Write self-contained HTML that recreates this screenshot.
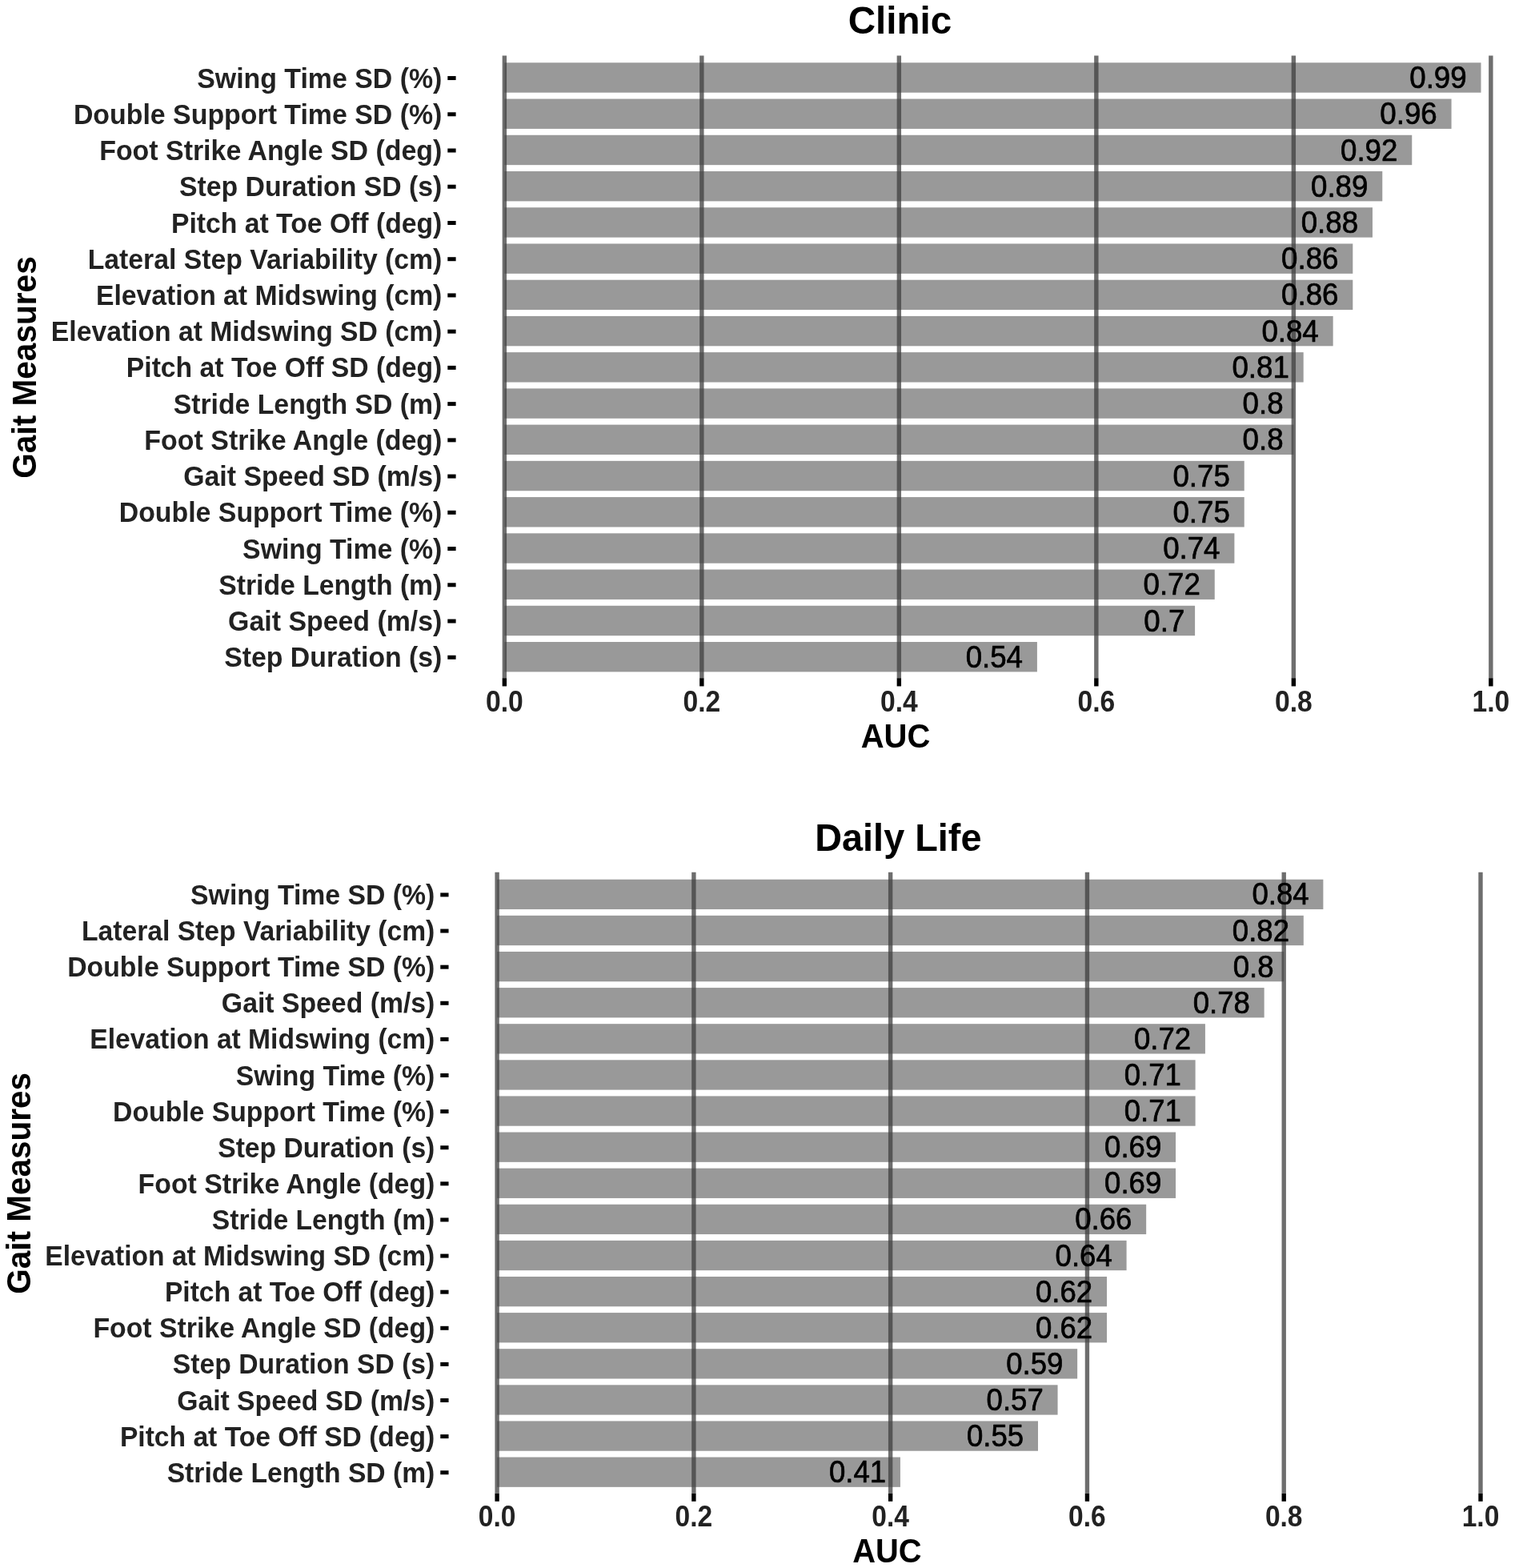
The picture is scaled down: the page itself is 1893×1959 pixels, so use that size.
<!DOCTYPE html>
<html lang="en">
<head>
<meta charset="utf-8">
<title>AUC of gait measures: Clinic and Daily Life</title>
<style>
html,body{margin:0;padding:0;background:#ffffff;}
body{width:1893px;height:1959px;overflow:hidden;}
svg{display:block;}
text{font-family:"Liberation Sans",sans-serif;}
.ylab{font-weight:bold;font-size:34px;fill:#222222;text-anchor:end;}
.xlab{font-weight:bold;font-size:34px;fill:#222222;text-anchor:middle;}
.val{font-size:37.5px;fill:#000000;stroke:#000000;stroke-width:0.7px;stroke-linejoin:round;text-anchor:end;}
.axt{font-weight:bold;font-size:40px;fill:#000000;text-anchor:middle;}
.ayt{font-weight:bold;font-size:40.6px;fill:#000000;text-anchor:middle;}
.tt{font-weight:bold;font-size:48px;fill:#000000;text-anchor:middle;}
.bar{fill:#999999;}
.g{stroke:#3f3f3f;stroke-opacity:0.755;stroke-width:5.4;}
.tk{stroke:#000000;stroke-width:5.4;}
.yaxis .tk{stroke-width:5;}
</style>
</head>
<body>
<svg width="1893" height="1959" viewBox="0 0 1893 1959">
<rect x="0" y="0" width="1893" height="1959" fill="#ffffff"/>
<g id="chart1">
<text class="tt" transform="translate(1124.5 42.1) scale(0.992 1.01)">Clinic</text>
<g class="bars">
<rect class="bar" x="630.35" y="78.3" width="1220.17" height="37.4"/>
<rect class="bar" x="630.35" y="123.53" width="1183.2" height="37.4"/>
<rect class="bar" x="630.35" y="168.76" width="1133.9" height="37.4"/>
<rect class="bar" x="630.35" y="213.99" width="1096.92" height="37.4"/>
<rect class="bar" x="630.35" y="259.23" width="1084.6" height="37.4"/>
<rect class="bar" x="630.35" y="304.46" width="1059.95" height="37.4"/>
<rect class="bar" x="630.35" y="349.69" width="1059.95" height="37.4"/>
<rect class="bar" x="630.35" y="394.92" width="1035.3" height="37.4"/>
<rect class="bar" x="630.35" y="440.15" width="998.33" height="37.4"/>
<rect class="bar" x="630.35" y="485.38" width="986" height="37.4"/>
<rect class="bar" x="630.35" y="530.61" width="986" height="37.4"/>
<rect class="bar" x="630.35" y="575.84" width="924.38" height="37.4"/>
<rect class="bar" x="630.35" y="621.08" width="924.38" height="37.4"/>
<rect class="bar" x="630.35" y="666.31" width="912.05" height="37.4"/>
<rect class="bar" x="630.35" y="711.54" width="887.4" height="37.4"/>
<rect class="bar" x="630.35" y="756.77" width="862.75" height="37.4"/>
<rect class="bar" x="630.35" y="802" width="665.55" height="37.4"/>
</g>
<g class="grid">
<line class="g" x1="630.35" y1="69.4" x2="630.35" y2="847.2"/>
<line class="g" x1="876.85" y1="69.4" x2="876.85" y2="847.2"/>
<line class="g" x1="1123.35" y1="69.4" x2="1123.35" y2="847.2"/>
<line class="g" x1="1369.85" y1="69.4" x2="1369.85" y2="847.2"/>
<line class="g" x1="1616.35" y1="69.4" x2="1616.35" y2="847.2"/>
<line class="g" x1="1862.85" y1="69.4" x2="1862.85" y2="847.2"/>
</g>
<g class="vals">
<text class="val" transform="translate(1832.65 110.1) scale(0.978 1.03)">0.99</text>
<text class="val" transform="translate(1795.67 155.33) scale(0.978 1.03)">0.96</text>
<text class="val" transform="translate(1746.37 200.56) scale(0.978 1.03)">0.92</text>
<text class="val" transform="translate(1709.4 245.79) scale(0.978 1.03)">0.89</text>
<text class="val" transform="translate(1697.07 291.03) scale(0.978 1.03)">0.88</text>
<text class="val" transform="translate(1672.42 336.26) scale(0.978 1.03)">0.86</text>
<text class="val" transform="translate(1672.42 381.49) scale(0.978 1.03)">0.86</text>
<text class="val" transform="translate(1647.77 426.72) scale(0.978 1.03)">0.84</text>
<text class="val" transform="translate(1610.8 471.95) scale(0.978 1.03)">0.81</text>
<text class="val" transform="translate(1603.58 517.18) scale(0.978 1.03)">0.8</text>
<text class="val" transform="translate(1603.58 562.41) scale(0.978 1.03)">0.8</text>
<text class="val" transform="translate(1536.85 607.64) scale(0.978 1.03)">0.75</text>
<text class="val" transform="translate(1536.85 652.88) scale(0.978 1.03)">0.75</text>
<text class="val" transform="translate(1524.52 698.11) scale(0.978 1.03)">0.74</text>
<text class="val" transform="translate(1499.87 743.34) scale(0.978 1.03)">0.72</text>
<text class="val" transform="translate(1480.33 788.57) scale(0.978 1.03)">0.7</text>
<text class="val" transform="translate(1278.02 833.8) scale(0.978 1.03)">0.54</text>
</g>
<g class="yaxis">
<line class="tk" x1="559.3" y1="97.55" x2="569.6" y2="97.55"/>
<text class="ylab" transform="translate(552.34 109.6) scale(0.9964 1.045)">Swing Time SD (%)</text>
<line class="tk" x1="559.3" y1="142.78" x2="569.6" y2="142.78"/>
<text class="ylab" transform="translate(552.34 154.83) scale(0.9967 1.045)">Double Support Time SD (%)</text>
<line class="tk" x1="559.3" y1="188.01" x2="569.6" y2="188.01"/>
<text class="ylab" transform="translate(552.35 200.06) scale(0.9974 1.045)">Foot Strike Angle SD (deg)</text>
<line class="tk" x1="559.3" y1="233.24" x2="569.6" y2="233.24"/>
<text class="ylab" transform="translate(552.34 245.29) scale(0.9941 1.045)">Step Duration SD (s)</text>
<line class="tk" x1="559.3" y1="278.48" x2="569.6" y2="278.48"/>
<text class="ylab" transform="translate(552.34 290.53) scale(0.9921 1.045)">Pitch at Toe Off (deg)</text>
<line class="tk" x1="559.3" y1="323.71" x2="569.6" y2="323.71"/>
<text class="ylab" transform="translate(552.34 335.76) scale(0.993 1.045)">Lateral Step Variability (cm)</text>
<line class="tk" x1="559.3" y1="368.94" x2="569.6" y2="368.94"/>
<text class="ylab" transform="translate(552.33 380.99) scale(0.9911 1.045)">Elevation at Midswing (cm)</text>
<line class="tk" x1="559.3" y1="414.17" x2="569.6" y2="414.17"/>
<text class="ylab" transform="translate(552.33 426.22) scale(0.9912 1.045)">Elevation at Midswing SD (cm)</text>
<line class="tk" x1="559.3" y1="459.4" x2="569.6" y2="459.4"/>
<text class="ylab" transform="translate(552.34 471.45) scale(0.9919 1.045)">Pitch at Toe Off SD (deg)</text>
<line class="tk" x1="559.3" y1="504.63" x2="569.6" y2="504.63"/>
<text class="ylab" transform="translate(552.34 516.68) scale(0.9931 1.045)">Stride Length SD (m)</text>
<line class="tk" x1="559.3" y1="549.86" x2="569.6" y2="549.86"/>
<text class="ylab" transform="translate(552.35 561.91) scale(0.9982 1.045)">Foot Strike Angle (deg)</text>
<line class="tk" x1="559.3" y1="595.09" x2="569.6" y2="595.09"/>
<text class="ylab" transform="translate(552.34 607.14) scale(0.9944 1.045)">Gait Speed SD (m/s)</text>
<line class="tk" x1="559.3" y1="640.33" x2="569.6" y2="640.33"/>
<text class="ylab" transform="translate(552.34 652.38) scale(0.9958 1.045)">Double Support Time (%)</text>
<line class="tk" x1="559.3" y1="685.56" x2="569.6" y2="685.56"/>
<text class="ylab" transform="translate(552.34 697.61) scale(0.9951 1.045)">Swing Time (%)</text>
<line class="tk" x1="559.3" y1="730.79" x2="569.6" y2="730.79"/>
<text class="ylab" transform="translate(552.34 742.84) scale(0.9925 1.045)">Stride Length (m)</text>
<line class="tk" x1="559.3" y1="776.02" x2="569.6" y2="776.02"/>
<text class="ylab" transform="translate(552.34 788.07) scale(0.9962 1.045)">Gait Speed (m/s)</text>
<line class="tk" x1="559.3" y1="821.25" x2="569.6" y2="821.25"/>
<text class="ylab" transform="translate(552.34 833.3) scale(0.9934 1.045)">Step Duration (s)</text>
</g>
<g class="xaxis">
<line class="tk" x1="630.35" y1="847.2" x2="630.35" y2="857.4"/>
<text class="xlab" transform="translate(630.35 888.6) scale(0.99 1.095)">0.0</text>
<line class="tk" x1="876.85" y1="847.2" x2="876.85" y2="857.4"/>
<text class="xlab" transform="translate(876.85 888.6) scale(0.99 1.095)">0.2</text>
<line class="tk" x1="1123.35" y1="847.2" x2="1123.35" y2="857.4"/>
<text class="xlab" transform="translate(1123.35 888.6) scale(0.99 1.095)">0.4</text>
<line class="tk" x1="1369.85" y1="847.2" x2="1369.85" y2="857.4"/>
<text class="xlab" transform="translate(1369.85 888.6) scale(0.99 1.095)">0.6</text>
<line class="tk" x1="1616.35" y1="847.2" x2="1616.35" y2="857.4"/>
<text class="xlab" transform="translate(1616.35 888.6) scale(0.99 1.095)">0.8</text>
<line class="tk" x1="1862.85" y1="847.2" x2="1862.85" y2="857.4"/>
<text class="xlab" transform="translate(1862.85 888.6) scale(0.99 1.095)">1.0</text>
</g>
<text class="axt" transform="translate(1119 934.2) scale(1 1.065)">AUC</text>
<text class="ayt" transform="translate(45.4 459) rotate(-90) scale(1 1.07)">Gait Measures</text>
</g>
<g id="chart2" transform="matrix(0.99708 0 0 0.99737 -7.41 1020.65)">
<text class="tt" transform="translate(1133.07 42.1) scale(0.979 1.01)">Daily Life</text>
<g class="bars">
<rect class="bar" x="630.35" y="78.3" width="1035.3" height="37.4"/>
<rect class="bar" x="630.35" y="123.53" width="1010.65" height="37.4"/>
<rect class="bar" x="630.35" y="168.76" width="986" height="37.4"/>
<rect class="bar" x="630.35" y="213.99" width="961.35" height="37.4"/>
<rect class="bar" x="630.35" y="259.23" width="887.4" height="37.4"/>
<rect class="bar" x="630.35" y="304.46" width="875.07" height="37.4"/>
<rect class="bar" x="630.35" y="349.69" width="875.07" height="37.4"/>
<rect class="bar" x="630.35" y="394.92" width="850.42" height="37.4"/>
<rect class="bar" x="630.35" y="440.15" width="850.42" height="37.4"/>
<rect class="bar" x="630.35" y="485.38" width="813.45" height="37.4"/>
<rect class="bar" x="630.35" y="530.61" width="788.8" height="37.4"/>
<rect class="bar" x="630.35" y="575.84" width="764.15" height="37.4"/>
<rect class="bar" x="630.35" y="621.08" width="764.15" height="37.4"/>
<rect class="bar" x="630.35" y="666.31" width="727.17" height="37.4"/>
<rect class="bar" x="630.35" y="711.54" width="702.52" height="37.4"/>
<rect class="bar" x="630.35" y="756.77" width="677.88" height="37.4"/>
<rect class="bar" x="630.35" y="802" width="505.32" height="37.4"/>
</g>
<g class="grid">
<line class="g" x1="630.35" y1="69.4" x2="630.35" y2="847.2"/>
<line class="g" x1="876.85" y1="69.4" x2="876.85" y2="847.2"/>
<line class="g" x1="1123.35" y1="69.4" x2="1123.35" y2="847.2"/>
<line class="g" x1="1369.85" y1="69.4" x2="1369.85" y2="847.2"/>
<line class="g" x1="1616.35" y1="69.4" x2="1616.35" y2="847.2"/>
<line class="g" x1="1862.85" y1="69.4" x2="1862.85" y2="847.2"/>
</g>
<g class="vals">
<text class="val" transform="translate(1647.77 110.1) scale(0.978 1.03)">0.84</text>
<text class="val" transform="translate(1623.12 155.33) scale(0.978 1.03)">0.82</text>
<text class="val" transform="translate(1603.58 200.56) scale(0.978 1.03)">0.8</text>
<text class="val" transform="translate(1573.82 245.79) scale(0.978 1.03)">0.78</text>
<text class="val" transform="translate(1499.87 291.03) scale(0.978 1.03)">0.72</text>
<text class="val" transform="translate(1487.55 336.26) scale(0.978 1.03)">0.71</text>
<text class="val" transform="translate(1487.55 381.49) scale(0.978 1.03)">0.71</text>
<text class="val" transform="translate(1462.9 426.72) scale(0.978 1.03)">0.69</text>
<text class="val" transform="translate(1462.9 471.95) scale(0.978 1.03)">0.69</text>
<text class="val" transform="translate(1425.92 517.18) scale(0.978 1.03)">0.66</text>
<text class="val" transform="translate(1401.27 562.41) scale(0.978 1.03)">0.64</text>
<text class="val" transform="translate(1376.62 607.64) scale(0.978 1.03)">0.62</text>
<text class="val" transform="translate(1376.62 652.88) scale(0.978 1.03)">0.62</text>
<text class="val" transform="translate(1339.65 698.11) scale(0.978 1.03)">0.59</text>
<text class="val" transform="translate(1315 743.34) scale(0.978 1.03)">0.57</text>
<text class="val" transform="translate(1290.35 788.57) scale(0.978 1.03)">0.55</text>
<text class="val" transform="translate(1117.8 833.8) scale(0.978 1.03)">0.41</text>
</g>
<g class="yaxis">
<line class="tk" x1="559.3" y1="97.55" x2="569.6" y2="97.55"/>
<text class="ylab" transform="translate(552.34 109.6) scale(0.9964 1.045)">Swing Time SD (%)</text>
<line class="tk" x1="559.3" y1="142.78" x2="569.6" y2="142.78"/>
<text class="ylab" transform="translate(552.34 154.83) scale(0.993 1.045)">Lateral Step Variability (cm)</text>
<line class="tk" x1="559.3" y1="188.01" x2="569.6" y2="188.01"/>
<text class="ylab" transform="translate(552.34 200.06) scale(0.9967 1.045)">Double Support Time SD (%)</text>
<line class="tk" x1="559.3" y1="233.24" x2="569.6" y2="233.24"/>
<text class="ylab" transform="translate(552.34 245.29) scale(0.9962 1.045)">Gait Speed (m/s)</text>
<line class="tk" x1="559.3" y1="278.48" x2="569.6" y2="278.48"/>
<text class="ylab" transform="translate(552.33 290.53) scale(0.9911 1.045)">Elevation at Midswing (cm)</text>
<line class="tk" x1="559.3" y1="323.71" x2="569.6" y2="323.71"/>
<text class="ylab" transform="translate(552.34 335.76) scale(0.9951 1.045)">Swing Time (%)</text>
<line class="tk" x1="559.3" y1="368.94" x2="569.6" y2="368.94"/>
<text class="ylab" transform="translate(552.34 380.99) scale(0.9958 1.045)">Double Support Time (%)</text>
<line class="tk" x1="559.3" y1="414.17" x2="569.6" y2="414.17"/>
<text class="ylab" transform="translate(552.34 426.22) scale(0.9934 1.045)">Step Duration (s)</text>
<line class="tk" x1="559.3" y1="459.4" x2="569.6" y2="459.4"/>
<text class="ylab" transform="translate(552.35 471.45) scale(0.9982 1.045)">Foot Strike Angle (deg)</text>
<line class="tk" x1="559.3" y1="504.63" x2="569.6" y2="504.63"/>
<text class="ylab" transform="translate(552.34 516.68) scale(0.9925 1.045)">Stride Length (m)</text>
<line class="tk" x1="559.3" y1="549.86" x2="569.6" y2="549.86"/>
<text class="ylab" transform="translate(552.33 561.91) scale(0.9912 1.045)">Elevation at Midswing SD (cm)</text>
<line class="tk" x1="559.3" y1="595.09" x2="569.6" y2="595.09"/>
<text class="ylab" transform="translate(552.34 607.14) scale(0.9921 1.045)">Pitch at Toe Off (deg)</text>
<line class="tk" x1="559.3" y1="640.33" x2="569.6" y2="640.33"/>
<text class="ylab" transform="translate(552.35 652.38) scale(0.9974 1.045)">Foot Strike Angle SD (deg)</text>
<line class="tk" x1="559.3" y1="685.56" x2="569.6" y2="685.56"/>
<text class="ylab" transform="translate(552.34 697.61) scale(0.9941 1.045)">Step Duration SD (s)</text>
<line class="tk" x1="559.3" y1="730.79" x2="569.6" y2="730.79"/>
<text class="ylab" transform="translate(552.34 742.84) scale(0.9944 1.045)">Gait Speed SD (m/s)</text>
<line class="tk" x1="559.3" y1="776.02" x2="569.6" y2="776.02"/>
<text class="ylab" transform="translate(552.34 788.07) scale(0.9919 1.045)">Pitch at Toe Off SD (deg)</text>
<line class="tk" x1="559.3" y1="821.25" x2="569.6" y2="821.25"/>
<text class="ylab" transform="translate(552.34 833.3) scale(0.9931 1.045)">Stride Length SD (m)</text>
</g>
<g class="xaxis">
<line class="tk" x1="630.35" y1="847.2" x2="630.35" y2="857.4"/>
<text class="xlab" transform="translate(630.35 888.6) scale(0.99 1.095)">0.0</text>
<line class="tk" x1="876.85" y1="847.2" x2="876.85" y2="857.4"/>
<text class="xlab" transform="translate(876.85 888.6) scale(0.99 1.095)">0.2</text>
<line class="tk" x1="1123.35" y1="847.2" x2="1123.35" y2="857.4"/>
<text class="xlab" transform="translate(1123.35 888.6) scale(0.99 1.095)">0.4</text>
<line class="tk" x1="1369.85" y1="847.2" x2="1369.85" y2="857.4"/>
<text class="xlab" transform="translate(1369.85 888.6) scale(0.99 1.095)">0.6</text>
<line class="tk" x1="1616.35" y1="847.2" x2="1616.35" y2="857.4"/>
<text class="xlab" transform="translate(1616.35 888.6) scale(0.99 1.095)">0.8</text>
<line class="tk" x1="1862.85" y1="847.2" x2="1862.85" y2="857.4"/>
<text class="xlab" transform="translate(1862.85 888.6) scale(0.99 1.095)">1.0</text>
</g>
<text class="axt" transform="translate(1119 934.2) scale(1 1.065)">AUC</text>
<text class="ayt" transform="translate(45.4 459) rotate(-90) scale(1 1.07)">Gait Measures</text>
</g>
</svg>
</body>
</html>
